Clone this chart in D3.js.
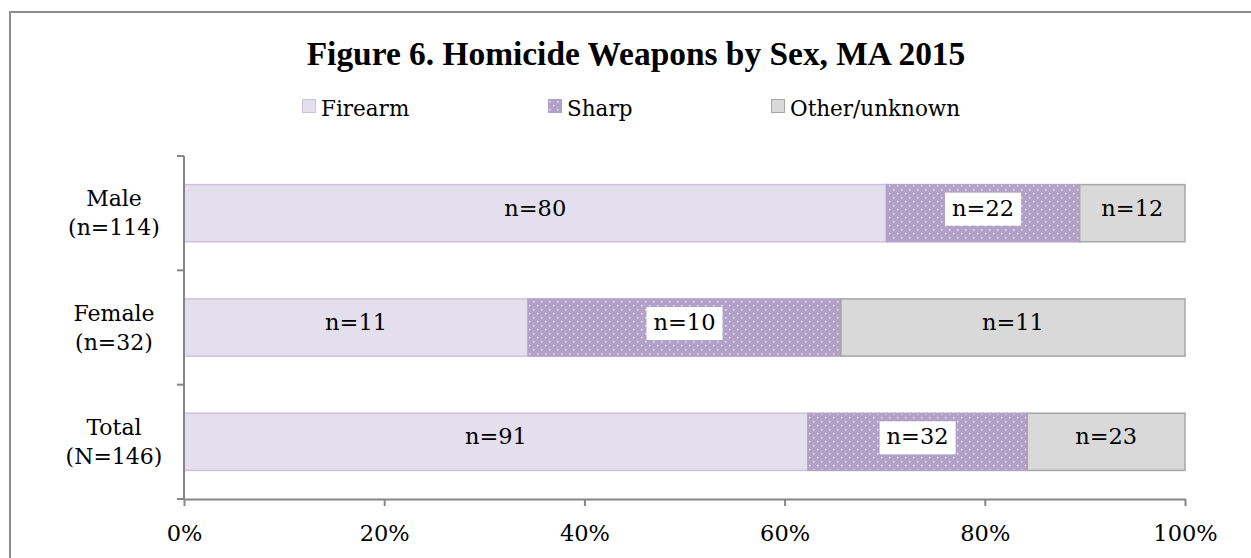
<!DOCTYPE html>
<html><head><meta charset="utf-8">
<script src="https://cdn.jsdelivr.net/npm/d3@7"></script>
<style>body{margin:0;background:#fff}svg{display:block}</style>
</head><body>
<script>
const categories = ["Male", "Female", "Total"];
const categorySub = ["(n=114)", "(n=32)", "(N=146)"];
const seriesNames = ["Firearm", "Sharp", "Other/unknown"];
const firearm = [80, 11, 91];
const sharp = [22, 10, 32];
const other = [12, 11, 23];
const xTicks = [0, 0.2, 0.4, 0.6, 0.8, 1.0];
const title = "Figure 6. Homicide Weapons by Sex, MA 2015";

const W = 1251, H = 558;
const font = "'DejaVu Serif', serif";
const titleFont = "'Liberation Serif', serif";
const svg = d3.select("body").append("svg").attr("width", W).attr("height", H);
const defs = svg.append("defs");
const pat = defs.append("pattern").attr("id","dots").attr("patternUnits","userSpaceOnUse")
  .attr("width",8).attr("height",8);
pat.append("rect").attr("width",8).attr("height",8).attr("fill","#b3a2c7");
[[1,1],[5,5]].forEach(p=>pat.append("rect").attr("x",p[0]).attr("y",p[1]).attr("width",1.5).attr("height",1.5)
  .attr("fill","#ffffff").attr("opacity",0.75));

svg.append("rect").attr("x",10).attr("y",12).attr("width",1260).attr("height",600)
  .attr("fill","#fff").attr("stroke","#8c8c8c").attr("stroke-width",2);

const tt = svg.append("text").attr("x",636).attr("y",65).attr("text-anchor","middle")
  .attr("font-family",titleFont).attr("font-weight","bold").attr("font-size",30).attr("fill","#000").text(title);
// size title to the reference width
const tw = tt.node().getComputedTextLength();
tt.attr("font-size", 30 * 659 / tw);

const fills = ["#e4dfec", "url(#dots)", "#d9d9d9"];
const strokes = ["#ccc1de", "#b3a2c7", "#a6a6a6"];
const legendX = [302, 548, 771];
seriesNames.forEach((s,i)=>{
  const g = svg.append("g");
  g.append("rect").attr("x",legendX[i]+0.5).attr("y",99.5).attr("width",13).attr("height",13)
    .attr("fill",fills[i]).attr("stroke",strokes[i]).attr("stroke-width",1);
  g.append("text").attr("x",legendX[i]+19).attr("y",116).attr("font-family",font).attr("font-size",21.5)
    .attr("fill","#000").text(s);
});

const x = d3.scaleLinear().domain([0,1]).range([184,1185]);
const y = d3.scaleBand().domain(categories).range([156,499]).paddingInner(0.5).paddingOuter(0.25);

const data = categories.map((c,i)=>{
  const tot = firearm[i]+sharp[i]+other[i];
  return {cat:c, vals:[firearm[i],sharp[i],other[i]], tot};
});

const gb = svg.append("g");
data.forEach(d=>{
  let acc = 0;
  d.vals.forEach((v,j)=>{
    const x0 = x(acc/d.tot), x1 = x((acc+v)/d.tot);
    gb.append("rect").attr("x",x0).attr("y",y(d.cat)).attr("width",x1-x0).attr("height",y.bandwidth())
      .attr("fill",fills[j]).attr("stroke",strokes[j]).attr("stroke-width",1.5);
    acc += v;
  });
});
data.forEach(d=>{
  let acc = 0;
  d.vals.forEach((v,j)=>{
    const cx = x((acc+v/2)/d.tot), cy = y(d.cat)+y.bandwidth()/2;
    const label = "n=" + v;
    const box = gb.append("rect").attr("fill","#fff");
    const t = gb.append("text").attr("x",cx).attr("y",cy+2.5).attr("text-anchor","middle")
      .attr("font-family",font).attr("font-size",22.5).attr("fill","#000").text(label);
    if (j===1) {
      const w = t.node().getComputedTextLength() + 14;
      box.attr("x",cx-w/2).attr("y",cy-20.5).attr("width",w).attr("height",33);
    } else box.remove();
    acc += v;
  });
});

// axes
const xAxis = svg.append("g").attr("transform","translate(0,499)")
  .call(d3.axisBottom(x).tickValues(xTicks).tickFormat(d3.format(".0%")).tickSize(7).tickSizeOuter(0));
xAxis.select(".domain").attr("stroke","#868686").attr("stroke-width",2);
xAxis.selectAll(".tick line").attr("stroke","#868686").attr("stroke-width",2);
xAxis.selectAll(".tick text").attr("font-family",font).attr("font-size",22.5).attr("fill","#000")
  .attr("y",42).attr("dy",0);

svg.append("line").attr("x1",184).attr("x2",184).attr("y1",156).attr("y2",499).attr("stroke","#868686").attr("stroke-width",2);
const yb = categories.map((c)=> y(c) - y.step()*0.25);
yb.concat([499]).forEach(v=>{
  svg.append("line").attr("x1",177).attr("x2",184).attr("y1",v).attr("y2",v).attr("stroke","#868686").attr("stroke-width",2);
});
categories.forEach((c,i)=>{
  const cy = y(c)+y.bandwidth()/2;
  const t = svg.append("text").attr("x",114).attr("y",cy-7).attr("text-anchor","middle")
    .attr("font-family",font).attr("font-size",22).attr("fill","#000");
  t.append("tspan").attr("x",114).text(c);
  t.append("tspan").attr("x",114).attr("dy",29).text(categorySub[i]);
});
</script>
</body></html>
